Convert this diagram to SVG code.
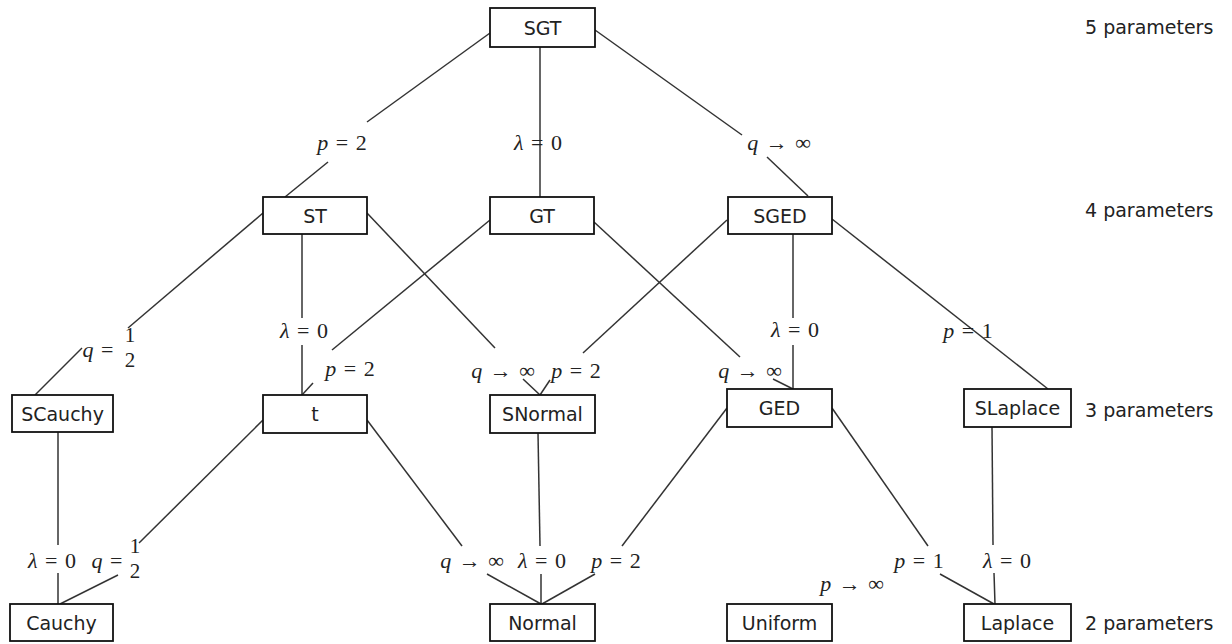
<svg xmlns="http://www.w3.org/2000/svg" width="1232" height="644" viewBox="0 0 1232 644">
<style>
.box{fill:#fff;stroke:#111;stroke-width:1.8}
.t{font-family:"DejaVu Sans",Verdana,sans-serif;font-size:19px;fill:#222;text-anchor:middle}
.side{font-family:"DejaVu Sans",Verdana,sans-serif;font-size:19px;fill:#222}
.m{font-family:"Liberation Serif","Times New Roman",serif;font-size:22px;fill:#222;text-anchor:middle;word-spacing:2px}
.i{font-style:italic}
.f{font-family:"Liberation Serif","Times New Roman",serif;font-size:21px;fill:#222;text-anchor:middle}
#connectors line{stroke:#333;stroke-width:1.5}
</style>
<rect width="1232" height="644" fill="#fff"/>
<g id="connectors">
<line x1="490" y1="33" x2="367" y2="122"/>
<line x1="328" y1="162" x2="285" y2="197"/>
<line x1="540" y1="47" x2="540" y2="197"/>
<line x1="595" y1="30" x2="742" y2="135"/>
<line x1="767" y1="157" x2="808" y2="196"/>
<line x1="263" y1="213" x2="128" y2="328"/>
<line x1="82" y1="348" x2="35" y2="395"/>
<line x1="302" y1="234" x2="302" y2="318"/>
<line x1="302" y1="345" x2="302" y2="395"/>
<line x1="490" y1="220" x2="332" y2="350"/>
<line x1="313" y1="383" x2="302" y2="395"/>
<line x1="367" y1="213" x2="495" y2="348"/>
<line x1="523" y1="379" x2="540" y2="395"/>
<line x1="727" y1="220" x2="583" y2="353"/>
<line x1="550" y1="380" x2="540" y2="395"/>
<line x1="594" y1="222" x2="740" y2="357"/>
<line x1="773" y1="379" x2="793" y2="389"/>
<line x1="793" y1="233" x2="793" y2="318"/>
<line x1="793" y1="345" x2="793" y2="389"/>
<line x1="832" y1="219" x2="1048" y2="389"/>
<line x1="58" y1="432" x2="58" y2="545"/>
<line x1="58" y1="573" x2="58" y2="604"/>
<line x1="263" y1="420" x2="139" y2="543"/>
<line x1="118" y1="575" x2="60" y2="604"/>
<line x1="367" y1="420" x2="462" y2="546"/>
<line x1="487" y1="574" x2="541" y2="604"/>
<line x1="538" y1="433" x2="540" y2="546"/>
<line x1="541" y1="574" x2="541" y2="604"/>
<line x1="727" y1="408" x2="622" y2="546"/>
<line x1="595" y1="574" x2="542" y2="604"/>
<line x1="832" y1="408" x2="928" y2="546"/>
<line x1="940" y1="574" x2="994" y2="604"/>
<line x1="992" y1="427" x2="993" y2="545"/>
<line x1="994" y1="573" x2="995" y2="604"/>
</g>
<g id="labels">
<text class="m" x="342" y="150"><tspan class="i">p</tspan> = 2</text>
<text class="m" x="538" y="150"><tspan class="i">λ</tspan> = 0</text>
<text class="m" x="779" y="150"><tspan class="i">q</tspan> → ∞</text>
<text class="m" x="98" y="357"><tspan class="i">q</tspan> =</text>
<text class="f" x="130" y="342">1</text>
<text class="f" x="130" y="367">2</text>
<text class="m" x="304" y="338"><tspan class="i">λ</tspan> = 0</text>
<text class="m" x="350" y="376"><tspan class="i">p</tspan> = 2</text>
<text class="m" x="503" y="378"><tspan class="i">q</tspan> → ∞</text>
<text class="m" x="576" y="378"><tspan class="i">p</tspan> = 2</text>
<text class="m" x="750" y="378"><tspan class="i">q</tspan> → ∞</text>
<text class="m" x="795" y="337"><tspan class="i">λ</tspan> = 0</text>
<text class="m" x="968" y="338"><tspan class="i">p</tspan> = 1</text>
<text class="m" x="52" y="568"><tspan class="i">λ</tspan> = 0</text>
<text class="m" x="107" y="568"><tspan class="i">q</tspan> =</text>
<text class="f" x="135" y="553">1</text>
<text class="f" x="135" y="578">2</text>
<text class="m" x="472" y="568"><tspan class="i">q</tspan> → ∞</text>
<text class="m" x="542" y="568"><tspan class="i">λ</tspan> = 0</text>
<text class="m" x="616" y="568"><tspan class="i">p</tspan> = 2</text>
<text class="m" x="919" y="568"><tspan class="i">p</tspan> = 1</text>
<text class="m" x="1007" y="568"><tspan class="i">λ</tspan> = 0</text>
<text class="m" x="852" y="591"><tspan class="i">p</tspan> → ∞</text>
</g>
<g id="SGT"><rect class="box" x="490" y="8" width="105" height="39"/><text class="t" x="542.5" y="34.5">SGT</text></g>
<g id="ST"><rect class="box" x="263" y="197" width="104" height="37"/><text class="t" x="315" y="222.5">ST</text></g>
<g id="GT"><rect class="box" x="490" y="197" width="104" height="37"/><text class="t" x="542" y="222.5">GT</text></g>
<g id="SGED"><rect class="box" x="728" y="197" width="104" height="37"/><text class="t" x="780" y="222.5">SGED</text></g>
<g id="SCauchy"><rect class="box" x="12" y="395" width="101" height="37"/><text class="t" x="62.5" y="420.5">SCauchy</text></g>
<g id="t"><rect class="box" x="263" y="395" width="104" height="38"/><text class="t" x="315" y="421">t</text></g>
<g id="SNormal"><rect class="box" x="490" y="395" width="105" height="38"/><text class="t" x="542.5" y="421">SNormal</text></g>
<g id="GED"><rect class="box" x="727" y="389" width="105" height="38"/><text class="t" x="779.5" y="415">GED</text></g>
<g id="SLaplace"><rect class="box" x="964" y="389" width="107" height="38"/><text class="t" x="1017.5" y="415">SLaplace</text></g>
<g id="Cauchy"><rect class="box" x="10" y="604" width="103" height="37"/><text class="t" x="61.5" y="629.5">Cauchy</text></g>
<g id="Normal"><rect class="box" x="490" y="604" width="105" height="37"/><text class="t" x="542.5" y="629.5">Normal</text></g>
<g id="Uniform"><rect class="box" x="727" y="604" width="105" height="37"/><text class="t" x="779.5" y="629.5">Uniform</text></g>
<g id="Laplace"><rect class="box" x="964" y="604" width="107" height="37"/><text class="t" x="1017.5" y="629.5">Laplace</text></g>
<g id="levels">
<text class="side" x="1085" y="34">5 parameters</text>
<text class="side" x="1085" y="217">4 parameters</text>
<text class="side" x="1085" y="417">3 parameters</text>
<text class="side" x="1085" y="630">2 parameters</text>
</g>
</svg>
